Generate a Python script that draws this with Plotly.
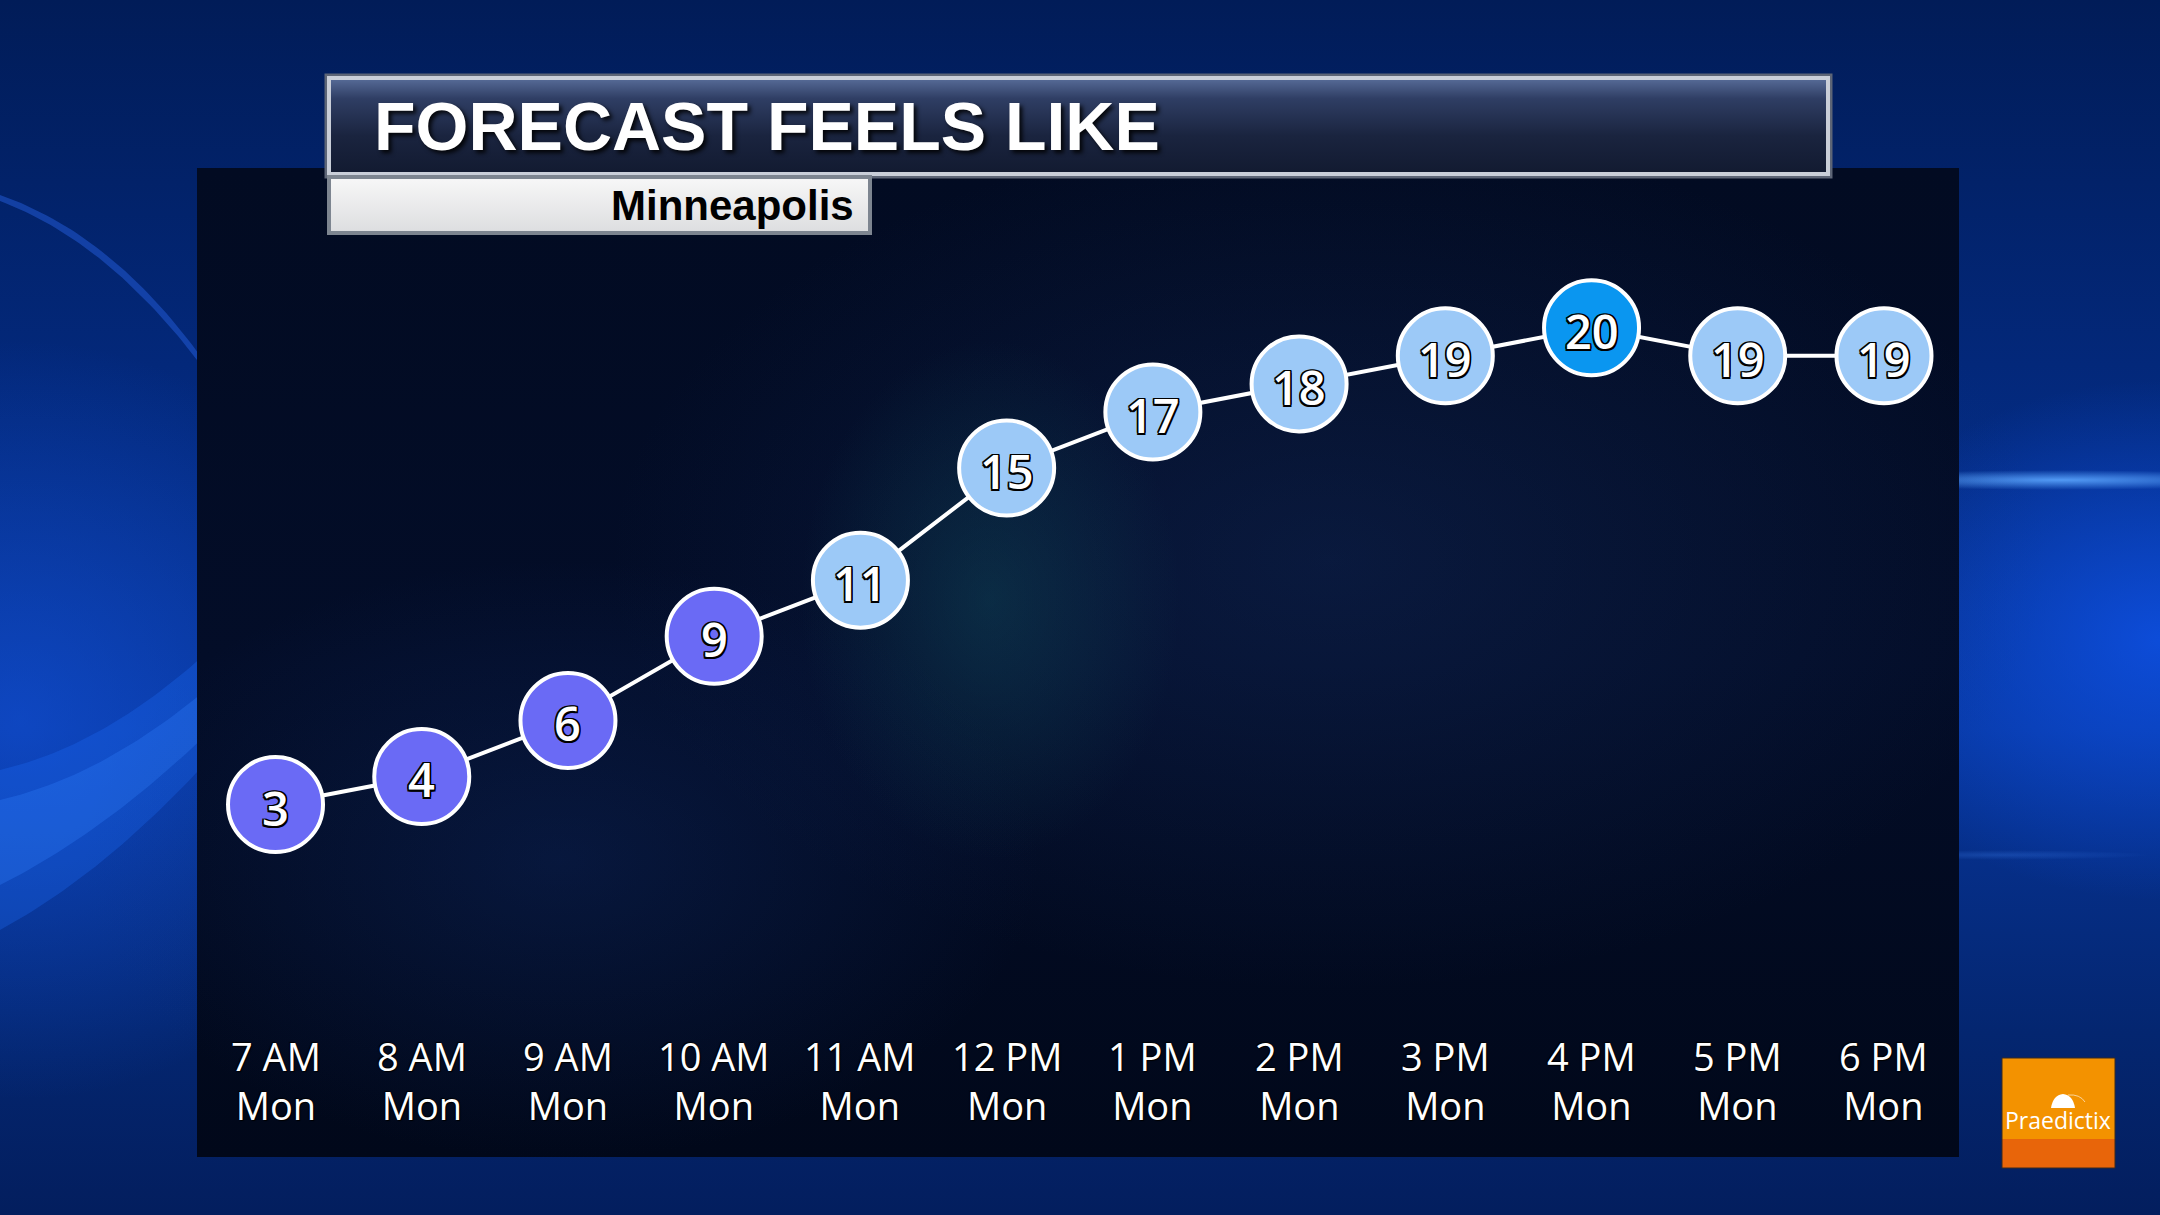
import numpy as np
import plotly.graph_objects as go

# ---------------- data ----------------
hours = ["7 AM", "8 AM", "9 AM", "10 AM", "11 AM", "12 PM",
         "1 PM", "2 PM", "3 PM", "4 PM", "5 PM", "6 PM"]
days = ["Mon", "Mon", "Mon", "Mon", "Mon", "Mon",
        "Mon", "Mon", "Mon", "Mon", "Mon", "Mon"]
feels_like = [3, 4, 6, 9, 11, 15, 17, 18, 19, 20, 19, 19]
title_text = "FORECAST FEELS LIKE"
city_text = "Minneapolis"
brand_text = "Praedictix"

# ---------------- canvas geometry (pixels) ----------------
W, H = 2160, 1215
PX0, PX1, PY0, PY1 = 197, 1959, 168, 1157   # dark chart panel


def band_color(v):
    if v >= 20:
        return "#0a96f0"
    if v >= 10:
        return "#9cc9f7"
    return "#6a6af5"


marker_colors = [band_color(v) for v in feels_like]


def bezier(p0, p1, p2, n=50):
    t = np.linspace(0, 1, n)[:, None]
    pts = (1 - t) ** 2 * np.array(p0) + 2 * (1 - t) * t * np.array(p1) + t ** 2 * np.array(p2)
    return list(pts[:, 0]), list(pts[:, 1])


def rect(x0, x1, y0, y1):
    return [x0, x1, x1, x0, x0], [y0, y0, y1, y1, y0]


def ellipse(cx, cy, rx, ry, n=90):
    t = np.linspace(0, 2 * np.pi, n)
    return list(cx + rx * np.cos(t)), list(cy + ry * np.sin(t))


def deco(xs, ys, color=None, gradient=None):
    tr = go.Scatter(x=xs, y=ys, mode="lines", fill="toself",
                    line=dict(width=0, color="rgba(0,0,0,0)"),
                    xaxis="x", yaxis="y", hoverinfo="skip", showlegend=False)
    if gradient is not None:
        tr.fillgradient = gradient
    else:
        tr.fillcolor = color
    return tr


def radial(c_in, c_out):
    return dict(type="radial", colorscale=[[0, c_in], [1, c_out]])


fig = go.Figure()

# background gradient
xs, ys = rect(0, W, 0, H)
fig.add_trace(deco(xs, ys, gradient=dict(
    type="vertical", start=0, stop=H,
    colorscale=[[0, "#011c58"], [0.3, "#03287a"], [0.6, "#07359a"], [0.85, "#042670"], [1, "#031e5e"]])))

# left glow and swoosh
xs, ys = ellipse(20, 720, 380, 380)
fig.add_trace(deco(xs, ys, gradient=radial("rgba(20,85,225,0.55)", "rgba(20,85,225,0)")))
tx, ty = bezier((0, 770), (130, 740), (260, 600))
bx, by = bezier((260, 700), (130, 860), (0, 930))
fig.add_trace(deco(tx + bx, ty + by, color="rgba(30,110,250,0.30)"))
tx, ty = bezier((0, 800), (130, 770), (260, 640))
bx, by = bezier((260, 680), (130, 820), (0, 885))
fig.add_trace(deco(tx + bx, ty + by, color="rgba(50,130,255,0.30)"))
tx, ty = bezier((0, 195), (130, 240), (230, 400))
bx, by = bezier((230, 406), (125, 248), (0, 201))
fig.add_trace(deco(tx + bx, ty + by, color="rgba(40,100,230,0.45)"))

# right glow and streak
xs, ys = ellipse(2160, 640, 340, 260)
fig.add_trace(deco(xs, ys, gradient=radial("rgba(15,85,240,0.75)", "rgba(15,85,240,0)")))
xs, ys = ellipse(2060, 480, 230, 10)
fig.add_trace(deco(xs, ys, gradient=radial("rgba(90,165,255,0.9)", "rgba(90,165,255,0)")))
xs, ys = ellipse(2000, 855, 150, 5)
fig.add_trace(deco(xs, ys, gradient=radial("rgba(70,140,255,0.25)", "rgba(70,140,255,0)")))

# chart panel
xs, ys = rect(PX0, PX1, PY0, PY1)
fig.add_trace(deco(xs, ys, gradient=dict(
    type="vertical", start=PY0, stop=PY1,
    colorscale=[[0, "#020b22"], [0.5, "#030d28"], [1, "#01081a"]])))
xs, ys = ellipse(1330, 560, 720, 430)
fig.add_trace(deco(xs, ys, gradient=radial("rgba(25,55,115,0.30)", "rgba(25,55,115,0)")))
xs, ys = ellipse(560, 860, 480, 300)
fig.add_trace(deco(xs, ys, gradient=radial("rgba(20,55,130,0.28)", "rgba(20,55,130,0)")))
xs, ys = ellipse(990, 600, 190, 260)
fig.add_trace(deco(xs, ys, gradient=radial("rgba(20,95,105,0.32)", "rgba(20,95,105,0)")))

# title boxes
xs, ys = rect(328, 1829, 77, 175)
fig.add_trace(deco(xs, ys, gradient=dict(
    type="vertical", start=77, stop=175,
    colorscale=[[0, "#5a6f9c"], [0.22, "#2f3e64"], [0.6, "#1a243f"], [1, "#121a30"]])))
xs, ys = rect(328, 871, 176, 234)
fig.add_trace(deco(xs, ys, gradient=dict(
    type="vertical", start=176, stop=234,
    colorscale=[[0, "#f8f8f8"], [1, "#dcdddf"]])))

# ---------------- main series ----------------
fig.add_trace(go.Scatter(
    x=hours, y=feels_like,
    mode="lines+markers",
    xaxis="x2", yaxis="y2", cliponaxis=False, hoverinfo="skip", showlegend=False,
    line=dict(color="white", width=4),
    marker=dict(size=95, color=marker_colors, opacity=1,
                line=dict(color="white", width=4)),
))

# ---------------- shapes (borders, logo) ----------------
shapes = [
    dict(type="rect", xref="x", yref="y", x0=326, x1=1831, y0=75, y1=177,
         line=dict(color="#5d6576", width=3), fillcolor="rgba(0,0,0,0)", layer="above"),
    dict(type="rect", xref="x", yref="y", x0=329, x1=1828, y0=78, y1=174,
         line=dict(color="#c9ced8", width=4), fillcolor="rgba(0,0,0,0)", layer="above"),
    dict(type="rect", xref="x", yref="y", x0=329, x1=870, y0=177, y1=233,
         line=dict(color="#7d8590", width=4), fillcolor="rgba(0,0,0,0)", layer="above"),
    dict(type="rect", xref="x", yref="y", x0=2002, x1=2115, y0=1058, y1=1139,
         line=dict(width=0), fillcolor="#f39200", layer="above"),
    dict(type="rect", xref="x", yref="y", x0=2002, x1=2115, y0=1139, y1=1168,
         line=dict(width=0), fillcolor="#e8650a", layer="above"),
    dict(type="rect", xref="x", yref="y", x0=2002, x1=2115, y0=1058, y1=1168,
         line=dict(color="#3a2a20", width=1), fillcolor="rgba(0,0,0,0)", layer="above"),
    dict(type="path", xref="x", yref="y",
         path="M 2051 1108 Q 2053 1095 2063 1094 Q 2073 1095 2075 1108 Z",
         line=dict(width=0), fillcolor="white", layer="above"),
    dict(type="path", xref="x", yref="y",
         path="M 2068 1095 Q 2080 1094 2085 1102",
         line=dict(color="rgba(255,255,255,0.6)", width=1), layer="above"),
]

# ---------------- annotations ----------------
outline = ("-1.5px -1.5px 0 #000, 1.5px -1.5px 0 #000, -1.5px 1.5px 0 #000, 1.5px 1.5px 0 #000, "
           "0 1.5px 0 #000, 0 -1.5px 0 #000, 1.5px 0 0 #000, -1.5px 0 0 #000")
label_shadow = "1px 1px 1px #000, -1px -1px 1px #000"
annotations = [
    dict(text=title_text, xref="x", yref="y", x=372, y=126, xanchor="left", yanchor="middle",
         showarrow=False,
         font=dict(family="Liberation Sans", size=68, color="white", weight=700,
                   shadow="3px 3px 4px rgba(0,0,0,0.85)")),
    dict(text=city_text, xref="x", yref="y", x=856, y=205, xanchor="right", yanchor="middle",
         showarrow=False,
         font=dict(family="Liberation Sans", size=42, color="black", weight=700)),
    dict(text=brand_text, xref="x", yref="y", x=2058, y=1120, xanchor="center", yanchor="middle",
         showarrow=False, font=dict(family="Open Sans", size=23, color="white")),
]
# value labels centred in the markers
for h, v in zip(hours, feels_like):
    annotations.append(dict(text=str(v), xref="x2", yref="y2", x=h, y=v, yshift=-3,
                            xanchor="center", yanchor="middle", showarrow=False,
                            font=dict(family="Open Sans", size=47, color="white",
                                      weight=600, shadow=outline)))
# two-line time labels
for h, d in zip(hours, days):
    annotations.append(dict(text=h + "<br>" + d, xref="x2", yref="y", x=h, y=1080,
                            xanchor="center", yanchor="middle", align="center", showarrow=False,
                            font=dict(family="Open Sans", size=38, color="white", shadow=label_shadow)))

fig.update_layout(
    width=W, height=H, autosize=False,
    margin=dict(l=0, r=0, t=0, b=0, pad=0),
    paper_bgcolor="#042670", plot_bgcolor="rgba(0,0,0,0)",
    showlegend=False, hovermode=False,
    xaxis=dict(domain=[0, 1], range=[0, W], visible=False, fixedrange=True),
    yaxis=dict(domain=[0, 1], range=[H, 0], visible=False, fixedrange=True),
    xaxis2=dict(domain=[PX0 / W, PX1 / W], anchor="y2", type="category",
                categoryorder="array", categoryarray=hours,
                range=[-0.537, 11.513], visible=False, fixedrange=True),
    yaxis2=dict(domain=[(H - PY1) / H, (H - PY0) / H], anchor="x2",
                range=[-9.57, 25.70], visible=False, fixedrange=True),
    shapes=shapes, annotations=annotations,
)

fig.write_html(
    "out.html",
    config=dict(displayModeBar=False, staticPlot=True),
    post_script="document.body.style.margin='0';document.body.style.overflow='hidden';",
)
